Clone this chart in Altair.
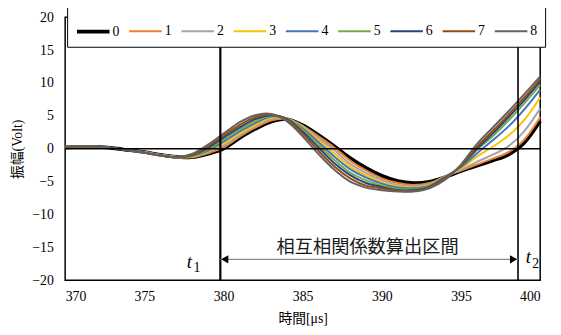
import altair as alt
import pandas as pd

# ---------------- data ----------------
times = list(range(370, 401))
series_names = ["0", "1", "2", "3", "4", "5", "6", "7", "8"]
series_colors = ["#000000", "#ED7D31", "#A5A5A5", "#FFC000", "#4472C4",
                 "#70AD47", "#264478", "#9E480E", "#636363"]
series_widths = [3.6, 2, 2, 2, 2, 2, 2, 2, 2]

s0 = [0.2, 0.3, 0.3, 0.1, -0.2, -0.5, -0.9, -1.2, -1.3, -0.8, 0.0, 1.6, 3.0, 4.1, 4.5, 3.6,
      2.1, 0.4, -1.4, -2.9, -4.1, -4.9, -5.2, -5.0, -4.3, -3.4, -2.6, -1.8, -0.9, 0.9, 4.2]
s1 = [0.2, 0.3, 0.3, 0.1, -0.2, -0.5, -0.9, -1.2, -1.3, -0.7, 0.2, 1.8, 3.2, 4.3, 4.5, 3.5,
      1.9, 0.2, -1.8, -3.3, -4.5, -5.2, -5.5, -5.2, -4.2, -3.3, -2.4, -1.5, -0.5, 1.4, 4.8]
s2 = [0.2, 0.3, 0.3, 0.1, -0.2, -0.5, -0.9, -1.2, -1.2, -0.5, 0.5, 2.0, 3.4, 4.5, 4.6, 3.4,
      1.6, -0.2, -2.3, -3.7, -4.8, -5.5, -5.7, -5.4, -4.2, -3.2, -2.0, -0.9, 0.4, 2.7, 6.1]
s3 = [0.3, 0.3, 0.3, 0.1, -0.2, -0.6, -1.0, -1.3, -1.2, -0.4, 0.8, 2.3, 3.6, 4.7, 4.6, 3.3,
      1.3, -0.7, -2.7, -4.1, -5.1, -5.7, -5.9, -5.5, -4.2, -3.0, -1.2, 0.3, 2.0, 4.4, 7.8]
s4 = [0.3, 0.3, 0.3, 0.1, -0.2, -0.6, -1.0, -1.3, -1.1, -0.3, 1.1, 2.6, 3.9, 4.9, 4.6, 3.1,
      1.0, -1.2, -3.1, -4.4, -5.3, -5.9, -6.0, -5.6, -4.2, -2.8, -0.7, 1.3, 3.4, 6.0, 9.0]
s5 = [0.3, 0.35, 0.3, 0.1, -0.2, -0.6, -1.0, -1.3, -1.1, -0.1, 1.4, 2.9, 4.2, 5.0, 4.6, 2.9,
      0.6, -1.7, -3.6, -4.8, -5.6, -6.1, -6.2, -5.7, -4.3, -2.7, -0.2, 1.9, 4.3, 6.9, 9.7]
s6 = [0.3, 0.35, 0.3, 0.1, -0.2, -0.6, -1.0, -1.3, -1.0, 0.1, 1.7, 3.2, 4.5, 5.1, 4.5, 2.6,
      0.2, -2.2, -4.0, -5.2, -5.8, -6.3, -6.3, -5.8, -4.4, -2.6, 0.0, 2.3, 4.8, 7.4, 10.2]
s7 = [0.3, 0.4, 0.3, 0.1, -0.2, -0.6, -1.0, -1.3, -0.9, 0.3, 2.0, 3.6, 4.8, 5.2, 4.4, 2.3,
      -0.3, -2.7, -4.5, -5.6, -6.0, -6.4, -6.4, -5.9, -4.5, -2.5, 0.3, 2.7, 5.2, 7.8, 10.6]
s8 = [0.3, 0.4, 0.3, 0.1, -0.2, -0.6, -1.0, -1.3, -0.8, 0.6, 2.3, 4.0, 5.1, 5.3, 4.2, 1.9,
      -0.8, -3.2, -5.0, -5.9, -6.3, -6.5, -6.5, -6.0, -4.7, -2.4, 0.7, 3.2, 5.7, 8.3, 11.0]
all_series = [s0, s1, s2, s3, s4, s5, s6, s7, s8]

x_ticks = [370, 375, 380, 385, 390, 395, 400]
y_ticks = [-20, -15, -10, -5, 0, 5, 10, 15, 20]

t1, t2 = 379.8, 398.6
arrow_y = -16.8
band_label = "相互相関係数算出区間"
band_label_pos = (389.1, -14.9)
t1_pos = (377.85, -17.2)
t2_pos = (399.25, -16.5)

x_title = "時間[μs]"
y_title = "振幅(Volt)"

NUM_FONT = "Times New Roman"
SERIF = "Times New Roman, Noto Sans CJK JP"

# ---------------- frames ----------------
rows = []
for name, vals in zip(series_names, all_series):
    for t, v in zip(times, vals):
        rows.append({"t": t, "v": v, "s": name})
df = pd.DataFrame(rows)

xs = alt.Scale(domain=[370, 400], nice=False, zero=False)
ys = alt.Scale(domain=[-20, 20], nice=False)
x_axis = alt.Axis(values=x_ticks, title=x_title, labelPadding=9, titlePadding=9)
y_axis = alt.Axis(values=y_ticks, title=y_title, labelPadding=12, titlePadding=7)


def X(field):
    return alt.X(field, scale=xs, axis=x_axis)


def Y(field):
    return alt.Y(field, scale=ys, axis=y_axis)


legend = alt.Legend(
    title=None, orient="none", legendX=2, legendY=-12, direction="horizontal",
    columns=9, symbolType="stroke", symbolSize=1089, labelFont=NUM_FONT,
    labelFontSize=14, labelColor="black", labelOffset=1, columnPadding=6,
    padding=8, strokeColor="black", fillColor="white",
)

lines = alt.Chart(df).mark_line(interpolate="cardinal").encode(
    x=X("t:Q"),
    y=Y("v:Q"),
    color=alt.Color("s:N", scale=alt.Scale(domain=series_names, range=series_colors), legend=legend),
    strokeWidth=alt.StrokeWidth("s:N", scale=alt.Scale(type="ordinal", domain=series_names, range=series_widths),
                                legend=legend),
)

zero = alt.Chart(pd.DataFrame({"v": [0]})).mark_rule(color="black", strokeWidth=1.6).encode(y=Y("v:Q"))

vlines = alt.Chart(pd.DataFrame({"x": [t1, t2], "w": [2.2, 1.6]})).mark_rule(color="black").encode(
    x=X("x:Q"), strokeWidth=alt.StrokeWidth("w:Q", scale=None, legend=None))

arrow_df = pd.DataFrame({"x": [t1], "x2": [t2], "y": [arrow_y]})
arrow = alt.Chart(arrow_df).mark_rule(color="#8c8c8c", strokeWidth=1.2).encode(
    x=X("x:Q"), x2="x2:Q", y=Y("y:Q"))

head_l = alt.Chart(pd.DataFrame({"x": [t1], "y": [arrow_y]})).mark_point(
    shape="triangle-left", filled=True, color="black", size=70, opacity=1, xOffset=4.5
).encode(x=X("x:Q"), y=Y("y:Q"))
head_r = alt.Chart(pd.DataFrame({"x": [t2], "y": [arrow_y]})).mark_point(
    shape="triangle-right", filled=True, color="black", size=70, opacity=1, xOffset=-4.5
).encode(x=X("x:Q"), y=Y("y:Q"))

lab = alt.Chart(pd.DataFrame({"x": [band_label_pos[0]], "y": [band_label_pos[1]], "txt": [band_label]})).mark_text(
    font="Noto Sans CJK JP", fontSize=18.5, color="#1a1a1a", baseline="middle", align="center"
).encode(x=X("x:Q"), y=Y("y:Q"), text="txt:N")

t_df = pd.DataFrame({"x": [t1_pos[0], t2_pos[0]], "y": [t1_pos[1], t2_pos[1]],
                     "t": ["t", "t"], "sub": ["1", "2"]})
t_main = alt.Chart(t_df).mark_text(
    font=NUM_FONT, fontStyle="italic", fontSize=19, color="black", baseline="middle", align="center"
).encode(x=X("x:Q"), y=Y("y:Q"), text="t:N")
t_sub = alt.Chart(t_df).mark_text(
    font=NUM_FONT, fontSize=14, color="black", baseline="middle", align="center", dx=7.5, dy=6.5
).encode(x=X("x:Q"), y=Y("y:Q"), text="sub:N")

chart = alt.layer(lines, zero, vlines, arrow, head_l, head_r, lab, t_main, t_sub).properties(
    width=482, height=267,
    autosize=alt.AutoSizeParams(type="none"),
    padding={"left": 58, "top": 7, "right": 13, "bottom": 45},
).configure_view(
    stroke="black", strokeWidth=1.5
).configure_axis(
    grid=False, ticks=False, domain=False,
    labelFont=NUM_FONT, labelFontSize=14, labelColor="black",
    titleFont=SERIF, titleFontSize=14, titleColor="black", titleFontWeight="normal",
)

chart.save("out.html", embed_options={"renderer": "svg", "actions": False})
